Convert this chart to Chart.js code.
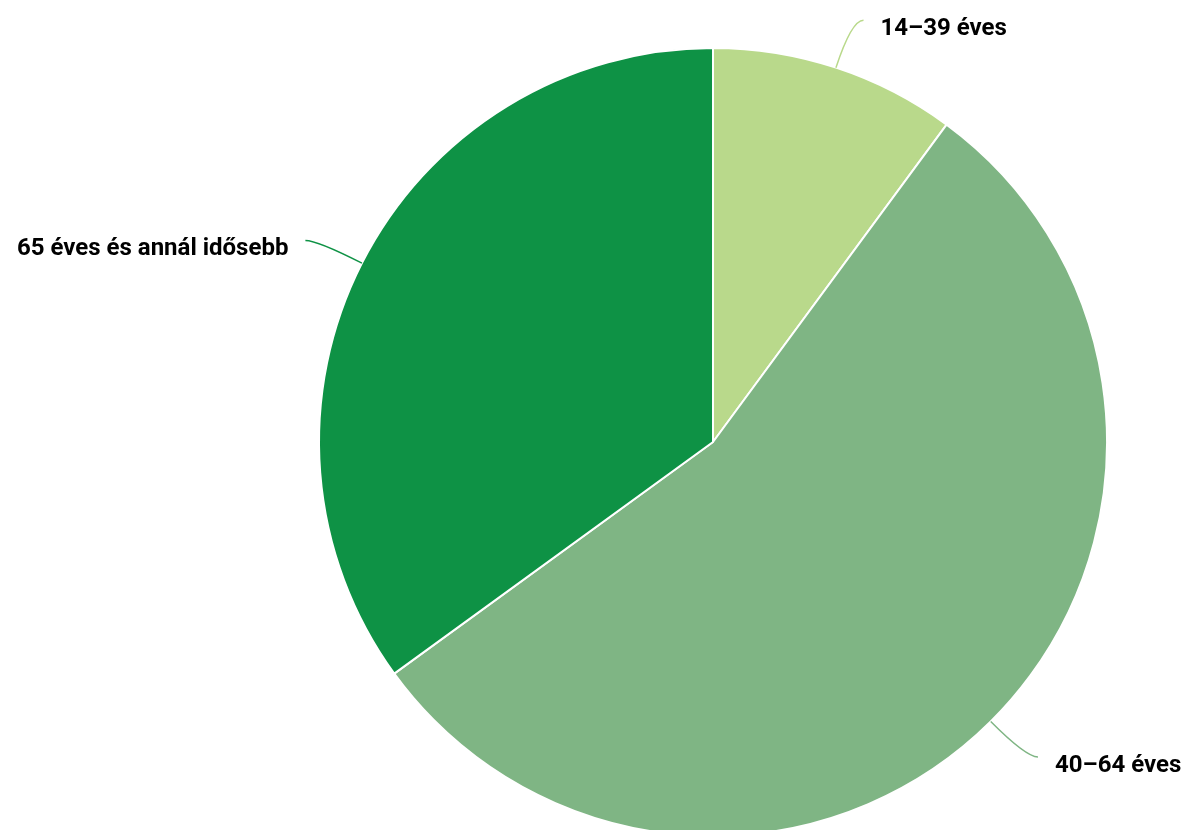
<!DOCTYPE html>
<html>
<head>
<meta charset="utf-8">
<script src="https://cdn.jsdelivr.net/npm/chart.js@4"></script>
<style>
  html, body { margin: 0; padding: 0; background: #fff; overflow: hidden; }
  #wrap { position: relative; width: 1188px; height: 837px; }
</style>
</head>
<body>
<div id="wrap"><canvas id="pieChart"></canvas></div>
<script>
var labels = ["14–39 éves", "40–64 éves", "65 éves és annál idősebb"];
var shares = [10.1, 54.9, 35.0];
var colors = ["#b9d98b", "#7fb584", "#0e9245"];

// leader lines + outside labels
var outsideLabels = {
  id: 'outsideLabels',
  afterDatasetsDraw: function (chart) {
    var ctx = chart.ctx;
    var meta = chart.getDatasetMeta(0);
    meta.data.forEach(function (arc, i) {
      var p = arc.getProps(['x', 'y', 'startAngle', 'endAngle', 'outerRadius'], true);
      var mid = (p.startAngle + p.endAngle) / 2;
      var c = Math.cos(mid), s = Math.sin(mid);
      var side = c >= 0 ? 1 : -1;
      var x0 = p.x + p.outerRadius * c, y0 = p.y + p.outerRadius * s;
      var x1 = p.x + (p.outerRadius + 50) * c, y1 = p.y + (p.outerRadius + 50) * s;
      var x2 = x1 + side * 12, y2 = y1;
      ctx.save();
      ctx.beginPath();
      ctx.moveTo(x0, y0);
      ctx.quadraticCurveTo(x1, y1, x2, y2);
      ctx.strokeStyle = colors[i];
      ctx.lineWidth = 1.5;
      ctx.stroke();
      ctx.fillStyle = '#000';
      ctx.font = 'bold 24px Roboto';
      ctx.textBaseline = 'middle';
      ctx.textAlign = side > 0 ? 'left' : 'right';
      ctx.fillText(labels[i], x2 + side * 17, y2 + 9);
      ctx.restore();
    });
  }
};

var ctxP = document.getElementById("pieChart").getContext('2d');
var myPieChart = new Chart(ctxP, {
  type: 'pie',
  data: {
    labels: labels,
    datasets: [
      {
        data: shares,
        backgroundColor: colors,
        borderColor: '#ffffff',
        borderWidth: 2,
        hoverOffset: 0
      }
    ]
  },
  options: {
    responsive: true,
    maintainAspectRatio: false,
    animation: false,
    layout: { padding: { left: 318, right: 80, top: 47, bottom: 0 } },
    plugins: {
      legend: { display: false },
      tooltip: { enabled: false }
    }
  },
  plugins: [outsideLabels]
});
</script>
</body>
</html>
